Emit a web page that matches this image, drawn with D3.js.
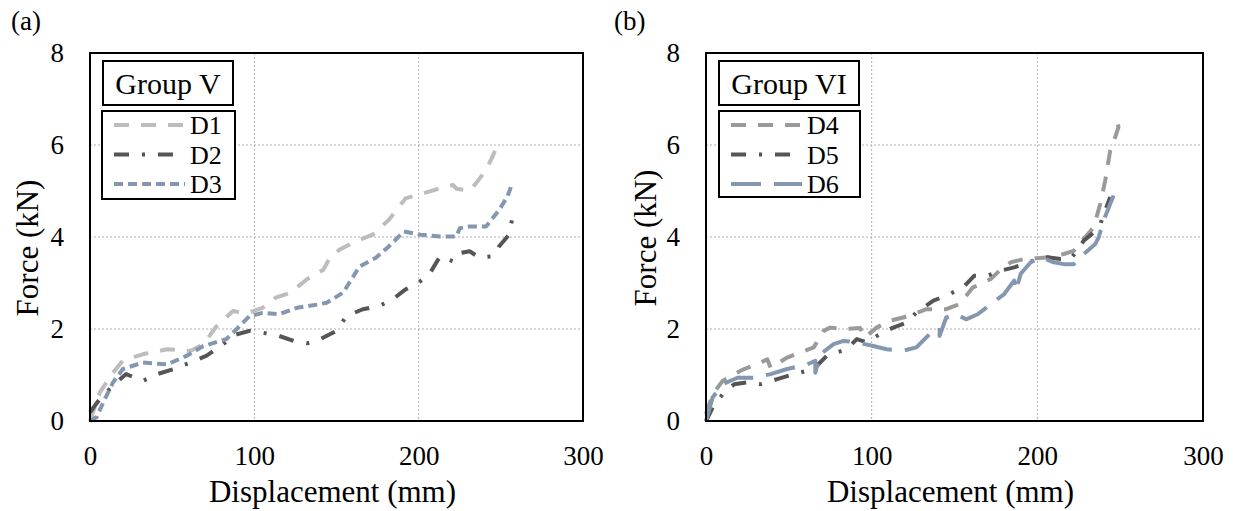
<!DOCTYPE html>
<html>
<head>
<meta charset="utf-8">
<script src="https://cdn.jsdelivr.net/npm/d3@7"></script>
<style>
body { margin: 0; background: #fff; }
svg { display: block; font-family: "Liberation Serif", "Times New Roman", serif; }
</style>
</head>
<body>
<script>
// tick values
const xTicks = [0, 100, 200, 300];
const yTicks = [0, 2, 4, 6, 8];

// Group V curves, [displacement mm, force kN]
const D1 = [[0,0],[6,0.62],[14,1.05],[20,1.31],[32,1.45],[47,1.56],[61,1.52],[69,1.67],[77,2.06],[87,2.39],[95,2.34],[105,2.46],[113,2.68],[122,2.79],[132,3.08],[142,3.29],[146,3.55],[152,3.73],[162,3.91],[172,4.05],[182,4.38],[192,4.84],[203,4.95],[213,5.06],[221,5.13],[223,5.05],[231,5.01],[235,5.17],[241,5.46],[245,5.75],[249,6.11]];
const D2 = [[0,0.19],[6,0.48],[14,0.77],[22,1.02],[32,0.87],[41,1.02],[51,1.13],[61,1.27],[71,1.42],[81,1.67],[89,1.88],[97,1.96],[105,1.92],[115,1.85],[124,1.74],[132,1.69],[138,1.74],[150,1.96],[156,2.28],[166,2.43],[176,2.5],[184,2.64],[192,2.86],[201,3.04],[207,3.22],[213,3.58],[221,3.47],[225,3.65],[231,3.69],[237,3.55],[245,3.58],[249,3.8],[255,4.05],[257,4.41],[259,4.63]];
const D3 = [[0,0],[4,0.08],[8,0.4],[14,0.84],[20,1.13],[32,1.27],[47,1.23],[59,1.42],[69,1.63],[83,1.78],[89,1.99],[97,2.28],[105,2.35],[115,2.32],[126,2.46],[138,2.53],[144,2.57],[154,2.79],[164,3.36],[174,3.55],[182,3.8],[191,4.12],[201,4.05],[213,4.01],[223,4.01],[225,4.19],[231,4.23],[241,4.23],[249,4.59],[254,4.88],[257,5.17]];

// Group VI curves
const D4 = [[0,0.15],[4,0.58],[10,0.87],[17,1.02],[23,1.13],[31,1.24],[37,1.34],[39,1.16],[49,1.38],[57,1.49],[65,1.6],[71,1.96],[75,2.03],[83,2.0],[93,2.02],[96,1.82],[103,2.03],[111,2.18],[119,2.25],[125,2.32],[133,2.43],[145,2.43],[153,2.54],[161,2.9],[172,3.09],[178,3.3],[184,3.45],[192,3.52],[200,3.54],[208,3.56],[216,3.63],[222,3.7],[228,3.96],[234,4.21],[238,4.72],[241,5.23],[244,5.88],[247,6.17],[249,6.39],[247,6.68]];
const D5 = [[0,0],[4,0.29],[10,0.58],[17,0.8],[25,0.84],[33,0.8],[43,0.91],[53,1.02],[65,1.13],[73,1.42],[85,1.56],[91,1.78],[97,1.71],[105,1.89],[113,2.03],[121,2.14],[127,2.36],[137,2.61],[147,2.76],[155,2.9],[162,3.16],[170,3.16],[178,3.27],[186,3.34],[192,3.41],[198,3.49],[206,3.56],[214,3.52],[220,3.52],[224,3.7],[228,3.92],[234,4.1],[238,4.28],[241,4.58],[244,4.87]];
const D6 = [[0,0],[4,0.51],[10,0.8],[19,0.94],[29,0.94],[39,1.02],[49,1.13],[61,1.23],[66,1.31],[66,1.05],[69,1.45],[77,1.67],[83,1.74],[91,1.71],[101,1.63],[109,1.56],[119,1.53],[127,1.6],[135,1.89],[141,2.03],[141,1.85],[145,2.25],[151,2.32],[157,2.21],[164,2.32],[172,2.54],[180,2.76],[186,3.05],[187,2.83],[190,3.2],[196,3.45],[202,3.56],[210,3.45],[216,3.41],[222,3.41],[228,3.63],[235,3.85],[237,3.99],[240,4.36],[244,4.72],[246,4.9]];

const panels = [
	{ tag: '(a)', group: 'Group V', left: 90, right: 583, tagX: 11, titleX: 38, titleY: 248,
		series: [
			{ name: 'D1', data: D1, color: '#bdbdbd', dash: '15,12' },
			{ name: 'D2', data: D2, color: '#555555', dash: '15,13,3,13' },
			{ name: 'D3', data: D3, color: '#8497b0', dash: '9,5' }
		],
		legend: { gx: 103, gw: 130, lx: 102, lw: 133, lh: 88 } },
	{ tag: '(b)', group: 'Group VI', left: 706, right: 1203, tagX: 614, titleX: 656, titleY: 238,
		series: [
			{ name: 'D4', data: D4, color: '#9a9a9a', dash: '15,12' },
			{ name: 'D5', data: D5, color: '#555555', dash: '15,13,3,13' },
			{ name: 'D6', data: D6, color: '#8497b0', dash: '30,13' }
		],
		legend: { gx: 719, gw: 140, lx: 719, lw: 141, lh: 86 } }
];

const plotTop = 53, plotBottom = 421;
const serif = 'Liberation Serif';

const svg = d3.select('body').append('svg')
	.attr('width', 1234)
	.attr('height', 511);

svg.append('rect').attr('width', 1234).attr('height', 511).attr('fill', '#fff');

panels.forEach(function(p) {
	var x = d3.scaleLinear().domain([0, 300]).range([p.left, p.right]);
	var y = d3.scaleLinear().domain([0, 8]).range([plotBottom, plotTop]);
	var g = svg.append('g');

	// grid
	g.selectAll('.gx').data(xTicks.slice(1, -1)).enter().append('line')
		.attr('x1', d => x(d)).attr('x2', d => x(d))
		.attr('y1', plotTop).attr('y2', plotBottom)
		.attr('stroke', '#b0b0b0').attr('stroke-width', 1).attr('stroke-dasharray', '2,2');
	g.selectAll('.gy').data(yTicks.slice(1, -1)).enter().append('line')
		.attr('x1', p.left).attr('x2', p.right)
		.attr('y1', d => y(d)).attr('y2', d => y(d))
		.attr('stroke', '#b0b0b0').attr('stroke-width', 1).attr('stroke-dasharray', '2,2');

	// axes
	var xAxis = d3.axisBottom(x).tickValues(xTicks).tickSize(0).tickPadding(25);
	var yAxis = d3.axisLeft(y).tickValues(yTicks).tickSize(0).tickPadding(26);
	g.append('g').attr('transform', 'translate(0,' + plotBottom + ')').call(xAxis)
		.call(a => a.select('.domain').remove())
		.selectAll('text').attr('font-size', 27).attr('font-family', serif).attr('fill', '#000');
	g.append('g').attr('transform', 'translate(' + p.left + ',0)').call(yAxis)
		.call(a => a.select('.domain').remove())
		.selectAll('text').attr('font-size', 27).attr('font-family', serif).attr('fill', '#000');

	// curves
	var line = d3.line().x(d => x(d[0])).y(d => y(d[1]));
	p.series.forEach(function(s) {
		g.append('path').datum(s.data)
			.attr('d', line)
			.attr('fill', 'none')
			.attr('stroke', s.color)
			.attr('stroke-width', 4)
			.attr('stroke-linejoin', 'round')
			.attr('stroke-dasharray', s.dash);
	});

	// plot frame
	g.append('rect')
		.attr('x', p.left).attr('y', plotTop)
		.attr('width', p.right - p.left).attr('height', plotBottom - plotTop)
		.attr('fill', 'none').attr('stroke', '#000').attr('stroke-width', 2);

	// titles
	g.append('text').attr('x', (p.left + p.right) / 2 - 4).attr('y', 502)
		.attr('text-anchor', 'middle').attr('font-size', 31).text('Displacement (mm)');
	g.append('text')
		.attr('transform', 'translate(' + p.titleX + ',' + p.titleY + ') rotate(-90)')
		.attr('text-anchor', 'middle').attr('font-size', 31).text('Force (kN)');
	g.append('text').attr('x', p.tagX).attr('y', 30).attr('font-size', 27).text(p.tag);

	// legend
	var L = p.legend;
	g.append('rect').attr('x', L.gx).attr('y', 61).attr('width', L.gw).attr('height', 44)
		.attr('fill', '#fff').attr('stroke', '#000').attr('stroke-width', 2);
	g.append('text').attr('x', L.gx + L.gw / 2).attr('y', 94).attr('text-anchor', 'middle')
		.attr('font-size', 30).text(p.group);
	g.append('rect').attr('x', L.lx).attr('y', 111).attr('width', L.lw).attr('height', L.lh)
		.attr('fill', '#fff').attr('stroke', '#000').attr('stroke-width', 2);
	p.series.forEach(function(s, i) {
		var yy = 125 + i * 29.5;
		g.append('line').attr('x1', L.lx + 12).attr('x2', L.lx + 83)
			.attr('y1', yy).attr('y2', yy)
			.attr('stroke', s.color).attr('stroke-width', 4).attr('stroke-dasharray', s.dash);
		g.append('text').attr('x', L.lx + 88).attr('y', yy + 9).attr('font-size', 26).text(s.name);
	});
});
</script>
</body>
</html>
